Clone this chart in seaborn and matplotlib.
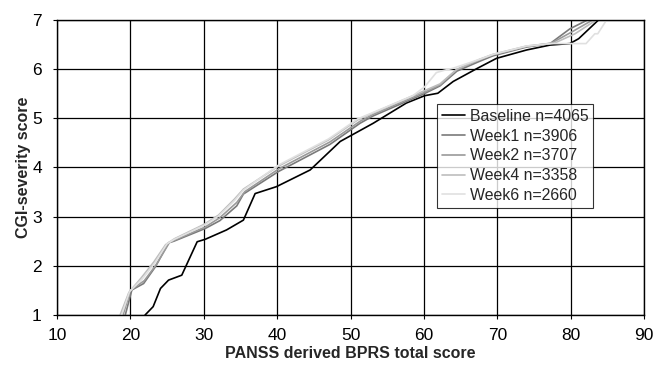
import matplotlib
matplotlib.use("Agg")
import matplotlib.pyplot as plt
import numpy as np
import pandas as pd
import seaborn as sns

# CGI-severity vs PANSS-derived BPRS total score, by assessment week
baseline_x = [22.0, 23.1, 24.1, 25.2, 27.0, 29.1, 30.2, 33.1, 35.4, 37.0, 39.9, 44.5,
              48.6, 53.1, 57.6, 60.1, 61.9, 64.0, 67.2, 69.9, 74.0, 77.2, 79.9, 81.1, 83.8]
baseline_y = [1.0, 1.17, 1.54, 1.71, 1.81, 2.49, 2.54, 2.73, 2.93, 3.47, 3.61, 3.95,
              4.53, 4.90, 5.31, 5.46, 5.51, 5.75, 6.01, 6.22, 6.39, 6.49, 6.52, 6.62, 7.0]

week1_x = [19.3, 20.2, 21.8, 23.4, 25.2, 25.9, 30.2, 32.2, 34.5, 35.4, 40.2, 47.2,
           51.3, 53.1, 59.9, 62.2, 64.5, 67.6, 69.4, 74.0, 77.2, 79.9, 82.3]
week1_y = [1.0, 1.51, 1.64, 1.98, 2.47, 2.50, 2.76, 2.92, 3.22, 3.46, 3.92, 4.47,
           4.90, 5.05, 5.49, 5.66, 5.96, 6.16, 6.27, 6.45, 6.52, 6.82, 7.0]

week2_x = [19.0, 20.0, 21.9, 23.5, 25.3, 26.0, 30.2, 32.2, 34.5, 35.6, 40.2, 47.2,
           51.3, 53.1, 59.9, 62.2, 64.5, 67.6, 69.4, 74.0, 77.4, 80.2, 83.0]
week2_y = [1.0, 1.50, 1.70, 2.02, 2.47, 2.52, 2.79, 2.98, 3.29, 3.51, 3.97, 4.52,
           4.94, 5.08, 5.52, 5.68, 5.99, 6.19, 6.29, 6.46, 6.53, 6.76, 7.0]

week4_x = [18.6, 19.8, 21.5, 23.2, 24.8, 26.0, 30.0, 32.0, 34.2, 35.4, 40.2, 47.0,
           51.0, 53.1, 59.9, 62.2, 64.5, 67.6, 69.4, 74.0, 77.8, 80.6, 83.5]
week4_y = [1.0, 1.46, 1.76, 2.08, 2.43, 2.55, 2.84, 3.03, 3.36, 3.56, 4.03, 4.56,
           4.97, 5.11, 5.55, 5.70, 6.00, 6.20, 6.30, 6.47, 6.53, 6.72, 7.0]

week6_x = [18.8, 19.9, 21.6, 23.3, 25.0, 26.0, 30.0, 32.0, 34.2, 35.4, 40.2, 47.0,
           51.0, 53.1, 58.5, 60.1, 61.7, 62.6, 64.0, 67.6, 69.4, 74.0, 77.2, 82.1,
           83.3, 83.7, 84.9]
week6_y = [1.0, 1.48, 1.73, 2.05, 2.45, 2.54, 2.82, 3.01, 3.33, 3.54, 4.05, 4.58,
           4.99, 5.12, 5.46, 5.64, 5.93, 5.97, 6.02, 6.20, 6.30, 6.47, 6.52, 6.52,
           6.72, 6.72, 7.0]

series = [
    ("Baseline n=4065", baseline_x, baseline_y),
    ("Week1 n=3906", week1_x, week1_y),
    ("Week2 n=3707", week2_x, week2_y),
    ("Week4 n=3358", week4_x, week4_y),
    ("Week6 n=2660", week6_x, week6_y),
]
palette = ["#000000", "#7a7a7a", "#9a9a9a", "#bdbdbd", "#e0e0e0"]

x_ticks = [10, 20, 30, 40, 50, 60, 70, 80, 90]
y_ticks = [1, 2, 3, 4, 5, 6, 7]

frames = []
for name, xs, ys in series:
    frames.append(pd.DataFrame({"bprs": xs, "cgi": ys, "group": name,
                                "order": np.arange(len(xs))}))
df = pd.concat(frames, ignore_index=True)

sns.set_style("ticks")
plt.rcParams["font.family"] = ["Liberation Sans", "DejaVu Sans"]

fig = plt.figure(figsize=(6.54, 3.66), dpi=100)
ax = fig.add_axes([0.0872, 0.1393, 0.8975, 0.8061])

sns.lineplot(data=df, x="bprs", y="cgi", hue="group", units="group",
             estimator=None, sort=False, palette=palette, linewidth=1.2, ax=ax)

ax.set_xlim(10, 90)
ax.set_ylim(1, 7)
ax.set_xticks(x_ticks)
ax.set_yticks(y_ticks)
ax.grid(True, color="black", linewidth=0.9)
ax.set_axisbelow(True)
for s in ax.spines.values():
    s.set_visible(True)
    s.set_color("black")
    s.set_linewidth(1.0)
ax.tick_params(axis="both", direction="out", length=3, width=0.8,
               labelsize=12.5, colors="black")
ax.tick_params(axis="x", pad=6)
ax.tick_params(axis="y", pad=8)
ax.set_xlabel("PANSS derived BPRS total score", fontsize=11.5, fontweight="bold", labelpad=2.5)
ax.set_ylabel("CGI-severity score", fontsize=11.5, fontweight="bold", labelpad=1)

leg = ax.legend(loc="upper left", bbox_to_anchor=(0.647, 0.715), frameon=True,
                fancybox=False, edgecolor="black", fontsize=11.4,
                handlelength=1.5, handletextpad=0.3, borderpad=0.3,
                labelspacing=0.3, borderaxespad=0)
leg.get_frame().set_linewidth(0.8)

fig.savefig("out.png", dpi=100)
